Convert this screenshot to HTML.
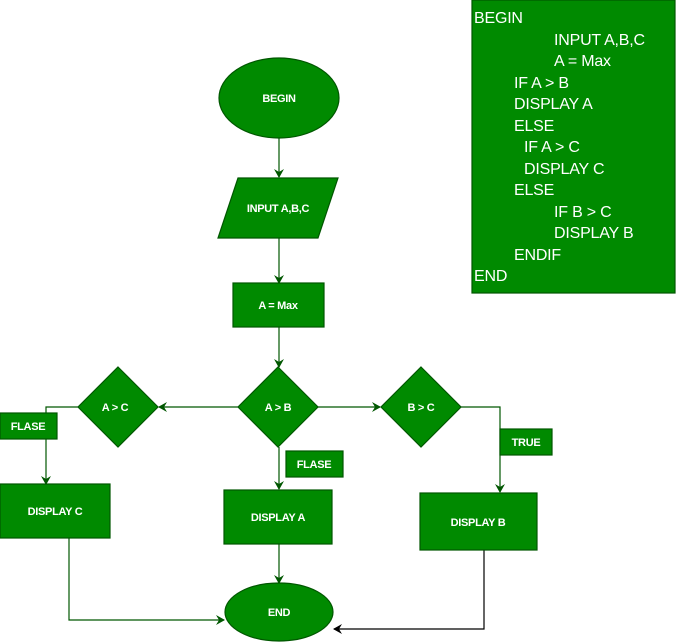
<!DOCTYPE html>
<html><head><meta charset="utf-8"><style>
html,body{margin:0;padding:0;background:#fff;}
svg{display:block;}
text{font-family:"Liberation Sans",sans-serif;fill:#fff;}
</style></head><body>
<svg width="676" height="642" viewBox="0 0 676 642" xmlns="http://www.w3.org/2000/svg">
<defs>
<marker id="a" markerWidth="10" markerHeight="10" refX="8" refY="5" orient="auto" markerUnits="userSpaceOnUse"><path d="M0,0 L9,5 L0,10 L3,5 Z" fill="#005700"/></marker>
<marker id="k" markerWidth="10" markerHeight="10" refX="8" refY="5" orient="auto" markerUnits="userSpaceOnUse"><path d="M0,0 L9,5 L0,10 L3,5 Z" fill="#000"/></marker>
</defs>
<g stroke="#005700" stroke-width="1.2" fill="none">
<line x1="279" y1="138" x2="279" y2="177" marker-end="url(#a)"/>
<line x1="279" y1="238" x2="279" y2="283" marker-end="url(#a)"/>
<line x1="279" y1="327" x2="279" y2="367" marker-end="url(#a)"/>
<line x1="238" y1="407" x2="159" y2="407" marker-end="url(#a)"/>
<polyline points="78,407 46,407 46,484" marker-end="url(#a)"/>
<line x1="279" y1="447" x2="279" y2="489" marker-end="url(#a)"/>
<line x1="279" y1="544" x2="279" y2="583" marker-end="url(#a)"/>
<line x1="318" y1="407" x2="380" y2="407" marker-end="url(#a)"/>
<polyline points="461,407 500,407 500,492" marker-end="url(#a)"/>
<polyline points="69,538 69,620 224,620" marker-end="url(#a)"/>
</g>
<polyline points="484,550 484,629 334,629" fill="none" stroke="#000" stroke-width="1.2" marker-end="url(#k)"/>
<g fill="#008a00" stroke="#005700" stroke-width="1.2">
<ellipse cx="279" cy="98" rx="60" ry="40"/>
<polygon points="238,178 338,178 318,238 218,238"/>
<rect x="233" y="283" width="91" height="44"/>
<polygon points="278,367 318,407 278,447 238,407"/>
<polygon points="118,367 158,407 118,447 78,407"/>
<polygon points="421,367 461,407 421,447 381,407"/>
<rect x="0" y="413" width="57" height="26"/>
<rect x="0" y="484" width="110" height="54"/>
<rect x="286" y="451" width="57" height="26"/>
<rect x="224" y="490" width="108" height="54"/>
<rect x="500" y="429" width="52" height="26"/>
<rect x="420" y="493" width="117" height="57"/>
<ellipse cx="279" cy="612" rx="54" ry="29"/>
<rect x="472" y="0" width="203" height="293"/>
</g>
<g font-size="11" text-anchor="middle" font-weight="bold" letter-spacing="-0.3">
<text x="279" y="102">BEGIN</text>
<text x="278" y="212">INPUT A,B,C</text>
<text x="278" y="309">A = Max</text>
<text x="278" y="411">A &gt; B</text>
<text x="115" y="411">A &gt; C</text>
<text x="421" y="411">B &gt; C</text>
<text x="28" y="430">FLASE</text>
<text x="55" y="515">DISPLAY C</text>
<text x="314" y="468">FLASE</text>
<text x="278" y="521">DISPLAY A</text>
<text x="526" y="446">TRUE</text>
<text x="478" y="526">DISPLAY B</text>
<text x="279" y="616">END</text>
</g>
<g font-size="16" letter-spacing="-0.2">
<text x="474" y="23">BEGIN</text>
<text x="554" y="45">INPUT A,B,C</text>
<text x="554" y="66">A = Max</text>
<text x="514" y="88">IF A &gt; B</text>
<text x="514" y="109">DISPLAY A</text>
<text x="514" y="131">ELSE</text>
<text x="524" y="152">IF A &gt; C</text>
<text x="524" y="174">DISPLAY C</text>
<text x="514" y="195">ELSE</text>
<text x="554" y="217">IF B &gt; C</text>
<text x="554" y="238">DISPLAY B</text>
<text x="514" y="260">ENDIF</text>
<text x="474" y="281">END</text>
</g>
</svg>
</body></html>
